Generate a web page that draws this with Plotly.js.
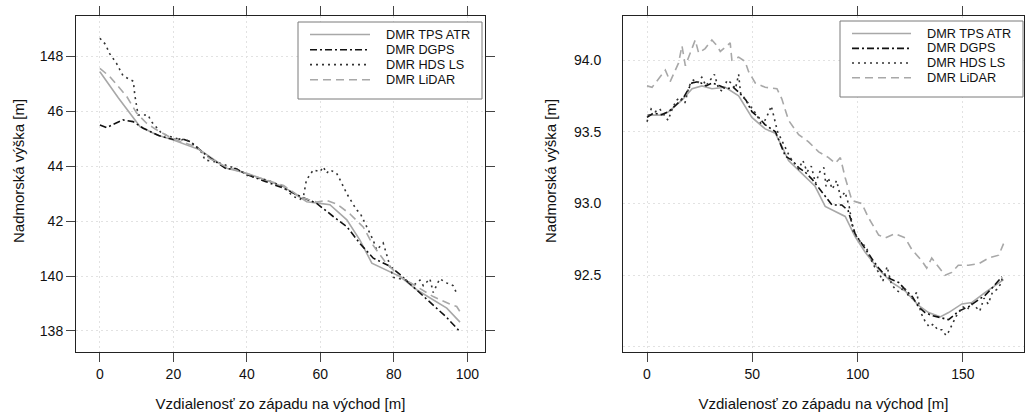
<!DOCTYPE html>
<html>
<head>
<meta charset="utf-8">
<script src="https://cdn.plot.ly/plotly-3.0.1.min.js"></script>
<style>html,body{margin:0;padding:0;background:#fff;}#chart{width:1025px;height:414px;}</style>
</head>
<body>
<div id="chart"></div>
<script>
// ---------- Data: left profile ----------
const seriesNames = ["DMR TPS ATR", "DMR DGPS", "DMR HDS LS", "DMR LiDAR"];

const tpsX_L = [0, 5, 10.9, 15.4, 20, 27.2, 34.5, 40, 49.9, 56.3, 59.9, 62.6, 67.2, 70.8, 74, 78.9, 81.7, 86.2, 90.7, 94.4, 98];
const tpsY_L = [147.45, 146.5, 145.45, 145.15, 144.96, 144.6, 143.93, 143.75, 143.26, 142.71, 142.65, 142.6, 142.05, 141.3, 140.47, 140.16, 139.98, 139.5, 139.13, 138.83, 138.32];

const dgpsX_L = [0, 1.8, 4, 6.3, 9, 11.8, 16, 20, 22.5, 24.5, 29, 34.5, 37, 40, 45, 50, 55.4, 59, 63.5, 67.2, 70.8, 74.4, 78.9, 81.7, 87.1, 90.7, 94.3, 98];
const dgpsY_L = [145.51, 145.41, 145.55, 145.69, 145.63, 145.39, 145.12, 144.98, 145.0, 144.9, 144.4, 143.9, 143.92, 143.7, 143.45, 143.2, 142.85, 142.65, 142.17, 141.8, 141.18, 140.65, 140.36, 140.05, 139.38, 138.95, 138.5, 137.97];

const hdsX_L = [0, 1.5, 2.7, 4.5, 6.3, 8.2, 9.1, 9.5, 10, 10.4, 13.1, 14, 14.9, 16.8, 19.5, 22.2, 23.1, 25.9, 27.7, 28.6, 31.3, 34, 36.8, 38.6, 40.4, 45.4, 49.9, 52.6, 54.5, 55.4, 56.2, 58.1, 59.9, 60.8, 61.7, 62.6, 64.4, 65.4, 67.2, 69.9, 70.8, 72.6, 74.4, 75.3, 77.1, 78, 79.8, 83.5, 85.3, 87.1, 88, 89.8, 90.7, 92.5, 94.3, 96.1, 97];
const hdsY_L = [148.67, 148.45, 148.1, 147.76, 147.3, 147.15, 147.1, 146.6, 146.2, 145.87, 145.87, 145.63, 145.5, 145.2, 145.07, 144.96, 145.0, 144.78, 144.5, 144.23, 144.17, 144.05, 143.93, 143.8, 143.65, 143.5, 143.26, 142.9, 142.8, 142.9, 143.5, 143.87, 143.8, 143.98, 143.75, 143.87, 143.75, 143.5, 143.0, 142.4, 142.3, 141.8, 141.3, 140.95, 141.2, 140.8, 139.95, 139.85, 139.65, 139.85, 139.65, 139.9, 139.4, 139.9, 139.75, 139.65, 139.4];

const lidarX_L = [0, 2.7, 7.3, 10, 12.7, 15.4, 20, 26.3, 29.9, 34.5, 40, 50, 54.5, 59, 61.7, 64.4, 68, 71.7, 74.4, 78, 81.7, 86.2, 90.7, 95.2, 97.1, 98];
const lidarY_L = [147.57, 147.27, 146.55, 145.94, 145.57, 145.33, 145.0, 144.7, 144.28, 143.97, 143.73, 143.3, 142.88, 142.7, 142.76, 142.63, 142.27, 141.78, 141.11, 140.45, 139.98, 139.6, 139.25, 138.98, 138.89, 138.7];

// ---------- Data: right profile ----------
const tpsX_R = [0, 7.1, 10.3, 16.6, 21.4, 26.1, 30.8, 37.2, 43.5, 49.8, 56.1, 60.9, 64, 67.2, 73.5, 79.8, 84.6, 90.9, 94.1, 98.8, 103.6, 110, 116.2, 122.6, 128.9, 133.7, 139.2, 143.2, 149.5, 154.3, 160.6, 169.3];
const tpsY_R = [93.616, 93.616, 93.64, 93.72, 93.80, 93.82, 93.80, 93.81, 93.75, 93.60, 93.52, 93.49, 93.40, 93.30, 93.21, 93.12, 92.98, 92.93, 92.91, 92.77, 92.66, 92.54, 92.45, 92.39, 92.29, 92.24, 92.21, 92.24, 92.30, 92.31, 92.38, 92.47];

const dgpsX_R = [0, 3, 7, 10.3, 14, 17.4, 21.3, 24.5, 28, 31, 34.5, 38, 41, 44, 47, 49.8, 53, 56, 61, 65.7, 69, 72, 75, 78.3, 81.5, 84.6, 87.8, 92.5, 95.5, 98.8, 101, 103.6, 107, 110, 113, 116.2, 119.5, 122.6, 126, 128.9, 132, 135.2, 140, 143.2, 148, 152.6, 157.5, 160.5, 163.8, 168.5];
const dgpsY_R = [93.60, 93.63, 93.62, 93.64, 93.69, 93.74, 93.84, 93.85, 93.82, 93.84, 93.82, 93.80, 93.81, 93.77, 93.72, 93.64, 93.60, 93.55, 93.50, 93.33, 93.30, 93.25, 93.22, 93.17, 93.11, 93.05, 92.99, 92.99, 92.95, 92.79, 92.74, 92.68, 92.61, 92.55, 92.50, 92.47, 92.45, 92.40, 92.35, 92.28, 92.24, 92.22, 92.20, 92.19, 92.25, 92.28, 92.33, 92.36, 92.41, 92.49];

const hdsX_R = [0, 2, 4, 6, 8, 10, 12, 14, 16, 18, 20, 22, 24, 26, 28, 30, 32, 34, 36, 38, 40, 42, 43.5, 44.5, 46, 48, 50, 52, 54, 56, 58, 59, 60, 61, 62, 64, 66, 68, 70, 72, 74, 76, 78, 80, 82, 84, 85, 86, 88, 90, 92, 94, 96, 98, 100, 102, 104, 106, 108, 110, 112, 114, 116, 118, 120, 122, 124, 126, 128, 130, 132, 134, 136, 138, 140, 142, 143, 145, 147, 150, 152, 154, 156, 158, 160, 162, 164, 166, 168, 169];
const hdsY_R = [93.57, 93.66, 93.64, 93.66, 93.62, 93.58, 93.66, 93.72, 93.74, 93.70, 93.82, 93.86, 93.84, 93.88, 93.82, 93.86, 93.90, 93.80, 93.78, 93.86, 93.84, 93.80, 93.90, 93.76, 93.74, 93.70, 93.66, 93.62, 93.56, 93.58, 93.64, 93.68, 93.62, 93.56, 93.50, 93.44, 93.38, 93.32, 93.28, 93.24, 93.30, 93.22, 93.26, 93.14, 93.22, 93.25, 93.12, 93.18, 93.10, 93.16, 93.04, 93.08, 92.98, 92.80, 92.76, 92.72, 92.70, 92.62, 92.56, 92.52, 92.46, 92.56, 92.44, 92.40, 92.38, 92.42, 92.36, 92.34, 92.38, 92.24, 92.18, 92.14, 92.16, 92.12, 92.12, 92.08, 92.10, 92.16, 92.22, 92.28, 92.26, 92.30, 92.28, 92.25, 92.34, 92.30, 92.38, 92.40, 92.44, 92.50];

const lidarX_R = [0, 2.4, 8.7, 11, 15, 16.6, 18.2, 22.1, 22.9, 24.5, 27.6, 30.8, 33.2, 34.8, 39.5, 40.3, 43.5, 46.6, 48.2, 51.4, 56.1, 61.7, 64, 67.2, 72, 76.7, 81.5, 86.2, 89.4, 91.8, 94.1, 97.3, 102, 105.2, 110, 113.1, 117.8, 122.6, 125.7, 130.5, 132.8, 135.2, 138.3, 141.5, 144.7, 147.8, 152.6, 157.5, 162.2, 167, 169.3];
const lidarY_R = [93.82, 93.81, 93.93, 93.85, 93.98, 94.10, 93.96, 94.12, 94.14, 94.05, 94.08, 94.14, 94.10, 94.06, 94.12, 94.00, 94.02, 93.99, 93.92, 93.84, 93.81, 93.80, 93.73, 93.58, 93.48, 93.43, 93.36, 93.32, 93.28, 93.32, 93.18, 93.02, 93.00, 92.90, 92.78, 92.76, 92.79, 92.76, 92.68, 92.60, 92.55, 92.62, 92.56, 92.50, 92.52, 92.57, 92.57, 92.58, 92.62, 92.64, 92.72];

// ---------- Tick labels ----------
const yTickVals_L = [138, 140, 142, 144, 146, 148];
const yTickText_L = ["138", "140", "42", "44", "46", "148"];
const xTickVals_L = [0, 20, 40, 60, 80, 100];
const yTickVals_R = [92.0, 92.5, 93.0, 93.5, 94.0];
const yTickText_R = ["", "92.5", "93.0", "93.5", "94.0"];
const xTickVals_R = [0, 50, 100, 150];

const xTitle = "Vzdialenosť zo západu na východ [m]";
const yTitle = "Nadmorská výška [m]";

// ---------- Styles ----------
const FONT = "Liberation Sans, Arial, Helvetica, sans-serif";
const styles = [
  {color: "#a8a8a8", width: 1.6, dash: "solid"},
  {color: "#111111", width: 1.6, dash: "7px,3px,2px,3px"},
  {color: "#333333", width: 1.6, dash: "2px,4px"},
  {color: "#a8a8a8", width: 1.6, dash: "8px,5px"}
];

const W = 1025, H = 414;
const mL = 76, mR = 1, mT = 16, mB = 62;
const pw = W - mL - mR, ph = H - mT - mB;
const px = v => (v - mL) / pw;
const py = v => (H - mB - v) / ph;

const left = [[tpsX_L, tpsY_L], [dgpsX_L, dgpsY_L], [hdsX_L, hdsY_L], [lidarX_L, lidarY_L]];
const right = [[tpsX_R, tpsY_R], [dgpsX_R, dgpsY_R], [hdsX_R, hdsY_R], [lidarX_R, lidarY_R]];

const traces = [];
left.forEach((d, i) => traces.push({x: d[0], y: d[1], type: "scatter", mode: "lines", name: seriesNames[i],
  line: {color: styles[i].color, width: styles[i].width, dash: styles[i].dash}, xaxis: "x", yaxis: "y", showlegend: false}));
right.forEach((d, i) => traces.push({x: d[0], y: d[1], type: "scatter", mode: "lines", name: seriesNames[i],
  line: {color: styles[i].color, width: styles[i].width, dash: styles[i].dash}, xaxis: "x2", yaxis: "y2", showlegend: false}));

// Custom legends (boxes + samples + labels)
const shapes = [];
const annotations = [];
function legend(box, lineX0, lineX1, textX, rows) {
  shapes.push({type: "rect", xref: "paper", yref: "paper", x0: px(box[0]), x1: px(box[1]), y0: py(box[3]), y1: py(box[2]),
    line: {color: "#7a7a7a", width: 1}, fillcolor: "rgba(255,255,255,1)", layer: "above"});
  rows.forEach((ry, i) => {
    shapes.push({type: "line", xref: "paper", yref: "paper", x0: px(lineX0), x1: px(lineX1), y0: py(ry), y1: py(ry),
      line: {color: styles[i].color, width: styles[i].width, dash: styles[i].dash}, layer: "above"});
    annotations.push({xref: "paper", yref: "paper", x: px(textX), y: py(ry), text: seriesNames[i], showarrow: false,
      xanchor: "left", yanchor: "middle", font: {family: FONT, size: 12.7, color: "#111"}});
  });
}
legend([298, 482, 22, 99], 310, 370, 384, [34.5, 49.8, 64.6, 79.8]);
legend([840, 1023, 21, 97], 852, 911, 925, [33.5, 48.4, 63, 77.8]);

// Y axis titles
annotations.push({xref: "paper", yref: "paper", x: px(18), y: py(171), text: yTitle, textangle: -90, showarrow: false,
  xanchor: "center", yanchor: "middle", font: {family: FONT, size: 15, color: "#111"}});
annotations.push({xref: "paper", yref: "paper", x: px(550), y: py(171), text: yTitle, textangle: -90, showarrow: false,
  xanchor: "center", yanchor: "middle", font: {family: FONT, size: 15, color: "#111"}});

const common = {
  showline: true, linecolor: "#222", linewidth: 1, mirror: "ticks",
  ticks: "outside", ticklen: 9, tickwidth: 1, tickcolor: "#444",
  showgrid: true, gridcolor: "#e2e2e2", griddash: "2px,3px", gridwidth: 1,
  zeroline: false, tickfont: {family: FONT, size: 14, color: "#111"}
};

const layout = {
  width: W, height: H,
  margin: {l: mL, r: mR, t: mT, b: mB},
  paper_bgcolor: "#fff", plot_bgcolor: "#fff",
  font: {family: FONT},
  showlegend: false,
  xaxis: Object.assign({}, common, {domain: [0, px(485)], range: [-6.5, 104.8], tickvals: xTickVals_L,
    title: {text: xTitle, font: {family: FONT, size: 15, color: "#111"}, standoff: 17}, anchor: "y"}),
  yaxis: Object.assign({}, common, {domain: [0, 1], range: [137.23, 149.48], tickvals: yTickVals_L, ticktext: yTickText_L, anchor: "x"}),
  xaxis2: Object.assign({}, common, {domain: [px(623), 1], range: [-11.4, 179], tickvals: xTickVals_R,
    title: {text: xTitle, font: {family: FONT, size: 15, color: "#111"}, standoff: 17}, anchor: "y2"}),
  yaxis2: Object.assign({}, common, {domain: [0, 1], range: [91.965, 94.307], tickvals: yTickVals_R, ticktext: yTickText_R,
    anchor: "x2", ticklen: 18, tickcolor: "rgba(0,0,0,0)"}),
  shapes: shapes,
  annotations: annotations
};

Plotly.newPlot("chart", traces, layout, {staticPlot: true, displayModeBar: false});
</script>
</body>
</html>
